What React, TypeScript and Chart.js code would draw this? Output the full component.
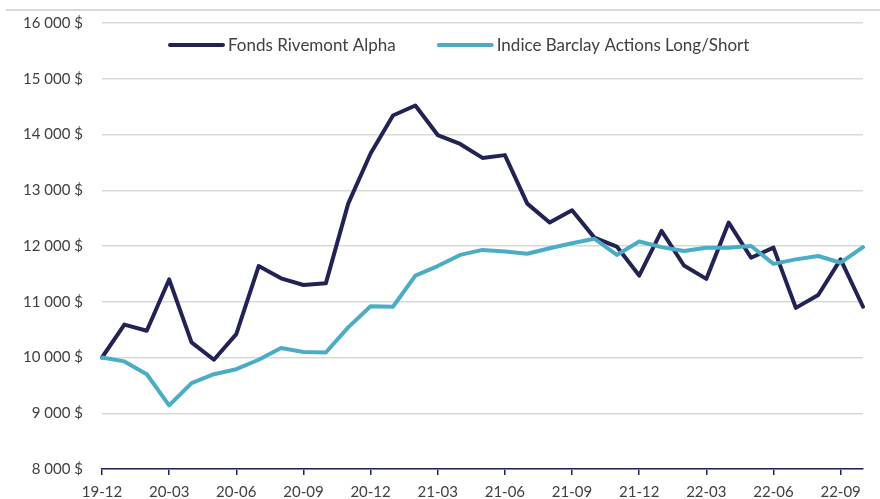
import React, { useEffect, useRef } from "react";
import { Chart, registerables } from "chart.js";

Chart.register(...registerables);

const labels = [
  "19-12", "20-01", "20-02", "20-03", "20-04", "20-05", "20-06", "20-07", "20-08", "20-09", "20-10", "20-11",
  "20-12", "21-01", "21-02", "21-03", "21-04", "21-05", "21-06", "21-07", "21-08", "21-09", "21-10", "21-11",
  "21-12", "22-01", "22-02", "22-03", "22-04", "22-05", "22-06", "22-07", "22-08", "22-09", "22-10",
];

const fundValues = [
  10000, 10590, 10480, 11400, 10270, 9960, 10420, 11640, 11420, 11300, 11330, 12760,
  13660, 14340, 14520, 13990, 13830, 13580, 13630, 12760, 12420, 12640, 12150, 11990,
  11470, 12270, 11650, 11410, 12420, 11790, 11970, 10890, 11120, 11760, 10910,
];

const indexValues = [
  10000, 9930, 9700, 9140, 9540, 9700, 9790, 9960, 10170, 10100, 10090, 10540,
  10920, 10910, 11470, 11640, 11840, 11930, 11900, 11860, 11960, 12050, 12130, 11840,
  12080, 11980, 11910, 11970, 11970, 12000, 11680, 11760, 11820, 11700, 11980,
];

const seriesNames = ["Fonds Rivemont Alpha", "Indice Barclay Actions Long/Short"];
const seriesColors = ["#222255", "#4bacc6"];

const FONT = "Lato, 'Open Sans', sans-serif";
const TEXT = "#404040";

const fmt = (v: number) => String(v).replace(/\B(?=(\d{3})+(?!\d))/g, " ") + " $";

const decorPlugin = {
  id: "decor",
  beforeDraw(chart: any) {
    const ctx = chart.ctx;
    ctx.save();
    ctx.strokeStyle = "#d9d9d9";
    ctx.lineWidth = 2;
    ctx.beginPath();
    ctx.moveTo(6, 10);
    ctx.lineTo(chart.width, 10);
    ctx.stroke();
    ctx.restore();
  },
  afterDraw(chart: any) {
    const ctx = chart.ctx;
    const area = chart.chartArea;
    ctx.save();
    ctx.font = `17px ${FONT}`;
    ctx.textBaseline = "middle";
    ctx.fillStyle = TEXT;
    let x = area.left + 68;
    const y = area.top + 22;
    seriesNames.forEach((name, i) => {
      ctx.strokeStyle = seriesColors[i];
      ctx.lineWidth = 4;
      ctx.lineCap = "round";
      ctx.beginPath();
      ctx.moveTo(x, y);
      ctx.lineTo(x + 53, y);
      ctx.stroke();
      x += 58;
      ctx.fillText(name, x, y + 1);
      x += ctx.measureText(name).width + 43;
    });
    ctx.restore();
  },
};

export default function App() {
  const ref = useRef<HTMLCanvasElement>(null);
  useEffect(() => {
    document.body.style.margin = "0";
    const chart = new Chart(ref.current!, {
      type: "line",
      data: {
        labels,
        datasets: [
          {
            label: seriesNames[0],
            data: fundValues,
            borderColor: seriesColors[0],
            borderWidth: 4,
            pointRadius: 0,
            tension: 0,
            borderJoinStyle: "round",
            borderCapStyle: "round",
            order: 2,
          },
          {
            label: seriesNames[1],
            data: indexValues,
            borderColor: seriesColors[1],
            borderWidth: 4,
            pointRadius: 0,
            tension: 0,
            borderJoinStyle: "round",
            borderCapStyle: "round",
            order: 1,
          },
        ],
      },
      options: {
        animation: false,
        responsive: false,
        layout: { padding: { top: 23, right: 17, bottom: 0, left: 0 } },
        plugins: { legend: { display: false }, tooltip: { enabled: false } },
        scales: {
          x: {
            type: "category",
            offset: false,
            afterFit: (s: any) => { s.height = 30; },
            border: { display: true, color: "#222255", width: 1.5 },
            grid: {
              drawOnChartArea: false,
              drawTicks: true,
              tickLength: 6,
              color: (c: any) => (c.index % 3 === 0 ? "#222255" : "rgba(0,0,0,0)"),
              lineWidth: 1.5,
            },
            ticks: {
              autoSkip: false,
              maxRotation: 0,
              padding: 8,
              color: TEXT,
              font: { family: FONT, size: 15 },
              callback: (_v: any, i: number) => (i % 3 === 0 ? labels[i] : ""),
            },
          },
          y: {
            min: 8000,
            max: 16000,
            afterFit: (s: any) => { s.width = 102; },
            border: { display: false },
            grid: { color: "#d9d9d9", lineWidth: 1.5, drawTicks: true, tickLength: 15, tickColor: "rgba(0,0,0,0)" },
            ticks: {
              stepSize: 1000,
              padding: 4,
              color: TEXT,
              font: { family: FONT, size: 15 },
              callback: (v: any) => fmt(Number(v)),
            },
          },
        },
      },
      plugins: [decorPlugin],
    });
    return () => chart.destroy();
  }, []);
  return (
    <div style={{ width: 880, height: 499 }}>
      <canvas ref={ref} width={880} height={499} style={{ display: "block" }} />
    </div>
  );
}
